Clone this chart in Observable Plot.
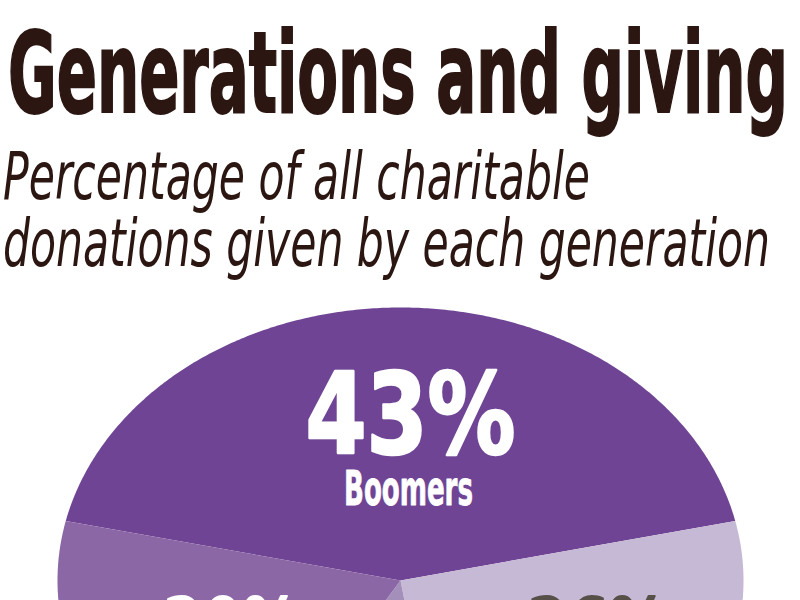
<!DOCTYPE html>
<html>
<head>
<meta charset="utf-8">
<script src="https://cdn.jsdelivr.net/npm/d3@7"></script>
<script src="https://cdn.jsdelivr.net/npm/@observablehq/plot@0.6"></script>
<style>
  html, body { margin: 0; padding: 0; width: 800px; height: 600px; overflow: hidden; background: #fff; }
  .t { position: absolute; white-space: nowrap; display: inline-block; transform-origin: 0 0; color: #2b1611; }
  #title { left: 8px; top: 17px; font: 700 112px/112px "Liberation Sans Narrow", "DejaVu Sans Condensed", "Liberation Sans", sans-serif; -webkit-text-stroke: 2px #2b1611; }
  .sub { left: 3px; font: italic 400 66px/66px "Liberation Sans Narrow", "DejaVu Sans Condensed", "Liberation Sans", sans-serif; }
  #sub1 { top: 144px; }
  #sub2 { top: 211px; }
  #chart { position: absolute; left: 0; top: 295px; }
</style>
</head>
<body>
<div id="title" class="t">Generations and giving</div>
<div id="sub1" class="t sub">Percentage of all charitable</div>
<div id="sub2" class="t sub">donations given by each generation</div>
<div id="chart"></div>
<script>
// ---- data ----
const generations = ["Boomers", "Matures", "Millennials", "Gen X"];
const shares = [43, 26, 11, 20];
const pctLabels = ["43%", "26%", "11%", "20%"];
const sliceColors = ["#6f4494", "#c5b9d5", "#a48fba", "#8b67a5"];

// ---- title fitting ----
function fit(id, target) {
  const el = document.getElementById(id);
  const w = el.getBoundingClientRect().width;
  el.style.transform = `scaleX(${target / w})`;
}
fit("title", 780);
fit("sub1", 587);
fit("sub2", 767);

// ---- pie geometry from shares ----
const total = d3.sum(shares);
const startAngle = -Math.PI * shares[0] / total;
const slices = [];
const labelPts = [];
let a = startAngle;
generations.forEach((g, i) => {
  const a0 = a, a1 = a + 2 * Math.PI * shares[i] / total;
  slices.push({g, x: 0, y: 0});
  const n = Math.max(2, Math.ceil((a1 - a0) / (Math.PI / 360)));
  for (let k = 0; k <= n; k++) {
    const t = a0 + (a1 - a0) * k / n;
    slices.push({g, x: Math.sin(t), y: Math.cos(t)});
  }
  slices.push({g, x: 0, y: 0});
  const m = (a0 + a1) / 2;
  labelPts.push({g, pct: pctLabels[i], x: 0.55 * Math.sin(m), y: 0.55 * Math.cos(m)});
  a = a1;
});
const lab = g => labelPts.filter(d => d.g === g);

const font = '"Liberation Sans Narrow", "DejaVu Sans Condensed", "Liberation Sans", sans-serif';

const chart = Plot.plot({
  width: 800,
  height: 305,
  margin: 0,
  style: {fontFamily: font, background: "transparent"},
  x: {domain: [-400 / 343, 400 / 343], axis: null},
  y: {domain: [-(305 - 285) / 273, 285 / 273], axis: null},
  color: {domain: generations, range: sliceColors},
  marks: [
    Plot.line(slices, {x: "x", y: "y", z: "g", fill: "g", stroke: "none"}),
    Plot.text(lab("Boomers"), {x: "x", y: "y", text: "pct", fill: "white", stroke: "white", strokeWidth: 2.5, fontSize: 112, fontWeight: 700, lineAnchor: "bottom", dx: 10, dy: 23}),
    Plot.text(lab("Boomers"), {x: "x", y: "y", text: "g", fill: "white", stroke: "white", strokeWidth: 0.8, fontSize: 48, fontWeight: 700, lineAnchor: "bottom", dx: 8, dy: 75}),
    Plot.text(lab("Gen X"), {x: "x", y: "y", text: "pct", fill: "white", stroke: "white", strokeWidth: 2, fontSize: 76, fontWeight: 700, lineAnchor: "bottom", dx: 4, dy: 13}),
    Plot.text(lab("Matures"), {x: "x", y: "y", text: "pct", fill: "#575049", stroke: "#575049", strokeWidth: 2, fontSize: 76, fontWeight: 700, lineAnchor: "bottom", dx: 41, dy: -12})
  ]
});
document.getElementById("chart").appendChild(chart);

// squeeze pie labels to the condensed widths of the original lettering
const widths = {"43%": 210, "Boomers": 129, "20%": 136, "26%": 140};
chart.querySelectorAll("text").forEach(t => {
  const w = widths[t.textContent];
  if (w) { t.setAttribute("textLength", w); t.setAttribute("lengthAdjust", "spacingAndGlyphs"); }
});
</script>
</body>
</html>
